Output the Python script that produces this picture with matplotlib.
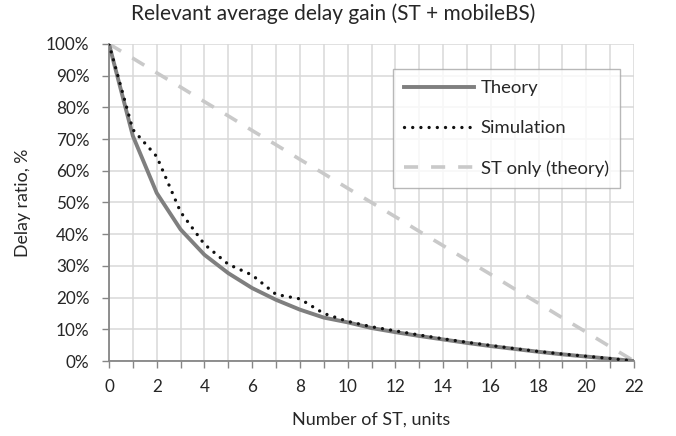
import numpy as np
import matplotlib.pyplot as plt
from matplotlib.ticker import MultipleLocator, FuncFormatter

plt.rcParams['font.family'] = ['Lato', 'DejaVu Sans']

n_st = list(range(23))
theory = [100, 71, 53, 41.5, 33.5, 27.7, 23, 19.3, 16.2, 13.7, 12.2, 10.4, 9.1,
          7.9, 6.8, 5.7, 4.7, 3.8, 2.9, 2.1, 1.4, 0.7, 0]
simulation = [100, 73, 64.5, 47, 36.8, 30.5, 27.1, 21, 19.6, 15, 12.5, 10.8, 9.5,
              8.2, 7.0, 5.9, 4.9, 3.9, 3.0, 2.2, 1.5, 0.8, 0]
st_only = [100, 95.5, 90.9, 86.4, 81.8, 77.3, 72.7, 68.2, 63.6, 59.1, 54.5, 50,
           45.5, 40.9, 36.4, 31.8, 27.3, 22.7, 18.2, 13.6, 9.1, 4.5, 0]

W, H = 676, 436
txt = '#262626'

fig = plt.figure(figsize=(W/100, H/100), dpi=100)
ax = fig.add_axes([109/W, 1-361/H, 525/W, 317/H])

ax.plot(n_st, theory, color='#7f7f7f', lw=2.8, label='Theory', zorder=3)
ax.plot(n_st, simulation, color='#111111', lw=2.4, ls=(0, (0.01, 2.45)),
        dash_capstyle='round', label='Simulation', zorder=4)
ax.plot(n_st, st_only, color='#c9c9c9', lw=2.6, ls=(0, (3.9, 3.6)),
        label='ST only (theory)', zorder=2)

ax.set_xlim(0, 22)
ax.set_ylim(0, 100)
ax.xaxis.set_major_locator(MultipleLocator(2))
ax.xaxis.set_minor_locator(MultipleLocator(1))
ax.yaxis.set_major_locator(MultipleLocator(10))
ax.yaxis.set_major_formatter(FuncFormatter(lambda v, p: '%d%%' % v))
ax.grid(True, which='both', color='#d9d9d9', lw=1.1, zorder=0)
ax.set_axisbelow(True)

for s in ['top', 'right']:
    ax.spines[s].set_visible(False)
for s in ['left', 'bottom']:
    ax.spines[s].set_color('#868686')
    ax.spines[s].set_linewidth(1.3)
ax.tick_params(which='both', color='#868686', length=5, width=1.0, labelsize=12.3,
               labelcolor=txt)
ax.tick_params(axis='x', pad=8)
ax.tick_params(axis='y', pad=9)

ax.set_xlabel('Number of ST, units', fontsize=13, color=txt, va='center')
ax.xaxis.set_label_coords(0.5, (361-420)/317)
ax.set_ylabel('Delay ratio, %', fontsize=12.8, color=txt, va='center')
ax.yaxis.set_label_coords((23-109)/525, 0.5)
fig.text(333/W, 1-14/H, 'Relevant average delay gain (ST + mobileBS)',
         ha='center', va='center', fontsize=15, color=txt)

leg = ax.legend(loc='upper left', bbox_to_anchor=((393-109)/525, (361-69)/317),
                fontsize=13.3, frameon=True, fancybox=False, edgecolor='#a6a6a6',
                handlelength=3.8, labelspacing=1.3, borderpad=0.6, handletextpad=0.35,
                borderaxespad=0)
leg.get_frame().set_linewidth(1.0)
for t in leg.get_texts():
    t.set_color(txt)

fig.savefig('out.png', dpi=100)
